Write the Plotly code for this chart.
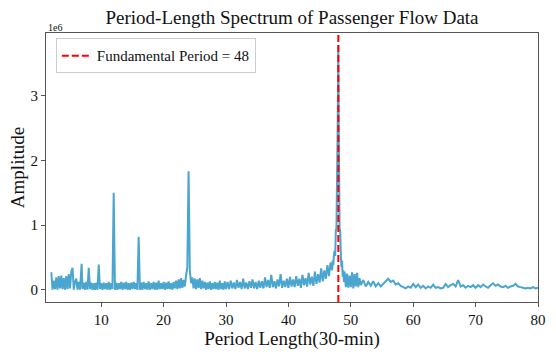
import plotly.graph_objects as go

# Period length (30-min units) and spectrum amplitude (x 1e6)
period = [
    2.0, 2.2, 2.4, 2.6, 2.8, 3.0, 3.2, 3.4, 3.6, 3.8, 4.0, 4.2, 4.4, 4.6, 4.8, 5.0,
    5.2, 5.4, 5.6, 5.8, 6.0, 6.2, 6.4, 6.6, 6.86, 7.0, 7.2, 7.4, 7.6, 7.8, 8.0, 8.2,
    8.4, 8.6, 8.8, 9.0, 9.2, 9.4, 9.6, 9.8, 10.0,
    10.2, 10.4, 10.6, 10.8, 11.0, 11.2, 11.4, 11.6, 11.8, 12.0, 12.2, 12.4, 12.6, 12.8,
    13.0, 13.2, 13.4, 13.6, 13.8, 14.0, 14.2, 14.4, 14.6, 14.8, 15.0, 15.2, 15.4, 15.6,
    15.8, 16.0, 16.2, 16.4, 16.6, 16.8, 17.0, 17.2, 17.4, 17.6, 17.8, 18.0, 18.2, 18.4,
    18.6, 18.8, 19.0, 19.2, 19.4, 19.6, 19.8, 20.0, 20.2, 20.4, 20.6, 20.8, 21.0, 21.2,
    21.4, 21.6, 21.8, 22.0, 22.2, 22.4, 22.6, 22.8, 23.0, 23.2, 23.4, 23.6, 23.8, 24.0,
    24.2, 24.4, 24.6, 24.8, 25.0, 25.2, 25.4, 25.6, 25.8, 26.0, 26.2, 26.4, 26.6, 26.8,
    27.0, 27.2, 27.4, 27.6, 27.8, 28.0, 28.2, 28.4, 28.6, 28.8, 29.0, 29.2, 29.4, 29.6,
    29.8, 30.0,
    30.25, 30.5, 30.75, 31.0, 31.25, 31.5, 31.75, 32.0, 32.25, 32.5, 32.75, 33.0, 33.25,
    33.5, 33.75, 34.0, 34.25, 34.5, 34.75, 35.0, 35.25, 35.5, 35.75, 36.0, 36.25, 36.5,
    36.75, 37.0, 37.25, 37.5, 37.75, 38.0, 38.25, 38.5, 38.75, 39.0, 39.25, 39.5, 39.75,
    40.0, 40.25, 40.5, 40.75, 41.0, 41.25, 41.5, 41.75, 42.0, 42.25, 42.5, 42.75, 43.0,
    43.25, 43.5, 43.75, 44.0, 44.25, 44.5, 44.75, 45.0, 45.25, 45.5, 45.75, 46.0, 46.25,
    46.5, 46.75,
    47.0, 47.1, 47.2, 47.3, 47.4, 47.5, 47.6, 47.7, 47.8, 47.9, 48.0, 48.1, 48.2, 48.3,
    48.4, 48.5, 48.6, 48.7, 48.8, 48.9,
    49.0, 49.2, 49.4, 49.6, 49.8, 50.0, 50.2, 50.4, 50.6, 50.8, 51.0, 51.2, 51.4, 51.6,
    52.0, 52.4, 52.8, 53.2, 53.6, 54.0, 54.4, 54.8, 55.2, 55.6, 56.0, 56.4, 56.8, 57.2,
    57.6, 58.0, 58.4, 58.8, 59.2, 59.6, 60.0, 60.4, 60.8, 61.2, 61.6, 62.0, 62.4, 62.8,
    63.2, 63.6, 64.0, 64.4, 64.8, 65.2, 65.6, 66.0, 66.4, 66.8, 67.2, 67.6, 68.0, 68.4,
    68.8, 69.2, 69.6, 70.0, 70.4, 70.8, 71.2, 71.6, 72.0, 72.4, 72.8, 73.2, 73.6, 74.0,
    74.4, 74.8, 75.2, 75.6, 76.0, 76.4, 76.8, 77.2, 77.6, 78.0, 78.4, 78.8, 79.2, 79.6,
    80.0,
]

amplitude = [
    0.27, 0.00, 0.14, 0.01, 0.19, 0.00, 0.21, 0.02, 0.22, 0.01, 0.18, 0.00, 0.21, 0.01,
    0.24, 0.02, 0.28, 0.34, 0.00, 0.12, 0.17, 0.00, 0.12, 0.00, 0.40, 0.01, 0.11, 0.00,
    0.12, 0.00, 0.34, 0.01, 0.11, 0.00, 0.10, 0.00, 0.11, 0.00, 0.39, 0.01, 0.10,
    0.00, 0.11, 0.01, 0.10, 0.00, 0.12, 0.00, 0.10, 0.01, 1.50, 0.00, 0.11, 0.00, 0.10,
    0.01, 0.12, 0.00, 0.11, 0.01, 0.12, 0.00, 0.10, 0.00, 0.11, 0.01, 0.12, 0.01, 0.10,
    0.00, 0.82, 0.00, 0.11, 0.00, 0.12, 0.01, 0.10, 0.00, 0.13, 0.00, 0.10, 0.01, 0.12,
    0.00, 0.11, 0.00, 0.14, 0.01, 0.10, 0.01, 0.12, 0.00, 0.11, 0.01, 0.13, 0.01, 0.10,
    0.00, 0.12, 0.02, 0.14, 0.01, 0.16, 0.02, 0.18, 0.03, 0.15, 0.05, 0.22, 0.35, 1.83,
    0.30, 0.10, 0.19, 0.02, 0.17, 0.01, 0.16, 0.03, 0.18, 0.01, 0.14, 0.02, 0.12, 0.00,
    0.11, 0.01, 0.13, 0.00, 0.10, 0.01, 0.12, 0.01, 0.11, 0.00, 0.14, 0.01, 0.10, 0.00,
    0.13, 0.01,
    0.12, 0.01, 0.14, 0.02, 0.11, 0.01, 0.15, 0.03, 0.12, 0.01, 0.17, 0.02, 0.11,
    0.01, 0.13, 0.03, 0.16, 0.02, 0.12, 0.01, 0.14, 0.03, 0.13, 0.02, 0.19, 0.04,
    0.15, 0.03, 0.23, 0.04, 0.13, 0.02, 0.16, 0.05, 0.24, 0.03, 0.14, 0.04, 0.17,
    0.03, 0.20, 0.05, 0.16, 0.04, 0.21, 0.06, 0.17, 0.03, 0.23, 0.07, 0.18, 0.05,
    0.26, 0.08, 0.20, 0.06, 0.28, 0.09, 0.24, 0.11, 0.33, 0.13, 0.30, 0.17, 0.38,
    0.21, 0.42,
    0.30, 0.45, 0.38, 0.55, 0.60, 0.52, 0.92, 0.95, 1.75, 2.60, 3.78, 2.10, 0.95, 0.90,
    0.55, 0.35, 0.45, 0.20, 0.30, 0.12,
    0.28, 0.04, 0.25, 0.03, 0.22, 0.04, 0.27, 0.02, 0.24, 0.05, 0.26, 0.04, 0.18, 0.07,
    0.15, 0.05, 0.12, 0.06, 0.13, 0.05, 0.10, 0.05, 0.09, 0.13, 0.17, 0.12, 0.14, 0.08,
    0.10, 0.06, 0.04, 0.02, 0.05, 0.03, 0.09, 0.04, 0.08, 0.03, 0.06, 0.02, 0.05, 0.03,
    0.08, 0.03, 0.04, 0.02, 0.03, 0.09, 0.04, 0.07, 0.09, 0.05, 0.15, 0.05, 0.07, 0.03,
    0.06, 0.04, 0.07, 0.03, 0.07, 0.04, 0.08, 0.05, 0.03, 0.07, 0.10, 0.06, 0.08, 0.05,
    0.04, 0.06, 0.03, 0.05, 0.06, 0.09, 0.05, 0.04, 0.03, 0.02, 0.03, 0.02, 0.04, 0.02,
    0.03,
]

fundamental_period = 48
x_ticks = [10, 20, 30, 40, 50, 60, 70, 80]
y_ticks = [0, 1, 2, 3]

FONT = "Liberation Serif, serif"
AXIS_COLOR = "#555555"
TEXT_COLOR = "#111111"
RED_DASH = dict(color="#ff0000", width=2, dash="7px,3px")

fig = go.Figure()

fig.add_trace(go.Scatter(
    x=period, y=amplitude,
    mode="lines",
    line=dict(color="#4aa5cf", width=2, simplify=False),
    showlegend=False,
    hoverinfo="x+y",
))

# Línea vertical del periodo fundamental + entrada de leyenda
fig.add_vline(x=fundamental_period, line=RED_DASH)
fig.add_trace(go.Scatter(
    x=[None], y=[None],
    mode="lines",
    line=RED_DASH,
    name=f"Fundamental Period = {fundamental_period}",
))

fig.add_annotation(
    text="1e6", xref="paper", yref="paper", x=0, y=1,
    xanchor="left", yanchor="bottom", showarrow=False,
    font=dict(family=FONT, size=10, color=TEXT_COLOR), yshift=-2,
)

fig.update_layout(
    width=556, height=360,
    paper_bgcolor="white",
    plot_bgcolor="white",
    font=dict(family=FONT, color=TEXT_COLOR, size=15),
    title=dict(
        text="Period-Length Spectrum of Passenger Flow Data",
        x=0.5, xref="paper", y=0.952, yanchor="middle",
        font=dict(family=FONT, size=19, color=TEXT_COLOR),
    ),
    xaxis=dict(
        title=dict(text="Period Length(30-min)",
                   font=dict(family=FONT, size=19, color=TEXT_COLOR), standoff=4),
        range=[1.15, 80], tickvals=x_ticks,
        showgrid=False, zeroline=False, automargin=False,
        showline=True, mirror=True, linecolor=AXIS_COLOR, linewidth=1,
        ticks="outside", ticklen=4, tickcolor=AXIS_COLOR,
        tickfont=dict(family=FONT, size=15, color=TEXT_COLOR),
    ),
    yaxis=dict(
        title=dict(text="Amplitude",
                   font=dict(family=FONT, size=19, color=TEXT_COLOR), standoff=0),
        range=[-0.19, 3.97], tickvals=y_ticks,
        showgrid=False, zeroline=False, automargin=False,
        showline=True, mirror=True, linecolor=AXIS_COLOR, linewidth=1,
        ticks="outside", ticklen=4, tickcolor=AXIS_COLOR,
        tickfont=dict(family=FONT, size=15, color=TEXT_COLOR),
    ),
    legend=dict(
        x=0.02, y=0.98, xanchor="left", yanchor="top",
        bgcolor="rgba(255,255,255,0.85)", bordercolor="#cccccc", borderwidth=1,
        font=dict(family=FONT, size=15, color=TEXT_COLOR),
    ),
    margin=dict(l=46, r=18, t=33, b=58),
)

# quitar el margen por defecto del <body> para que la figura empiece en (0, 0)
fig.write_html(
    "out.html",
    config={"displayModeBar": False},
    post_script="document.body.style.margin='0';",
)
